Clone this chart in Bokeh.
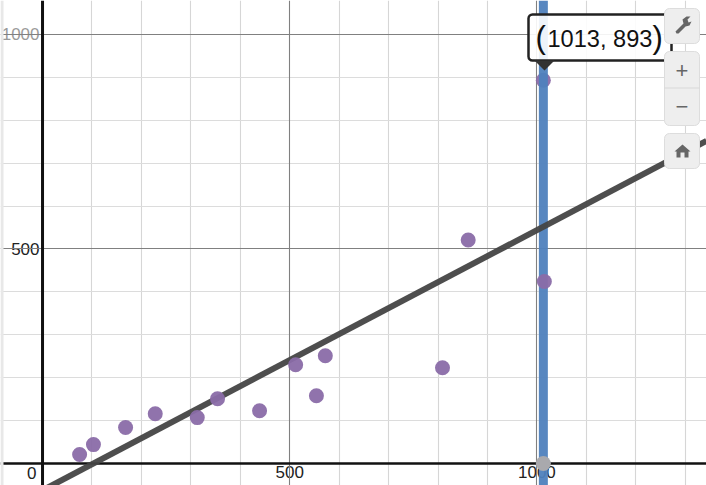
from bokeh.plotting import figure
from bokeh.embed import file_html
from bokeh.resources import INLINE
from bokeh.models import (BoxAnnotation, PolyAnnotation, Label, LinearAxis, Grid,
                          FixedTicker, Span)

W, H = 706, 485
FONT = "Liberation Sans"

# chart data
point_x = [75, 103, 168, 228, 313, 354, 439, 512, 554, 572, 809, 861, 1015]
point_y = [21, 44, 84, 116, 107, 151, 123, 230, 158, 251, 223, 521, 424]
fit_x = [-85, 1343]
fit_y = [-114, 752]
selected_x = 1013
selected_y = 893
selected_line_y = [-51.3, 1079]
minor_ticks = [100, 200, 300, 400, 600, 700, 800, 900, 1100, 1200, 1300]
major_ticks = [500, 1000]
y_minor_ticks = [100, 200, 300, 400, 600, 700, 800, 900]
tooltip_text = "1013, 893"

p = figure(width=W, height=H, x_range=(-85, 1343), y_range=(-51.3, 1079),
           output_backend="svg", toolbar_location=None, x_axis_type=None,
           y_axis_type=None, min_border=0, outline_line_color=None,
           background_fill_color="white",
           styles={"position": "absolute", "left": "0px", "top": "0px"})
p.grid.visible = False


def add_grid(dim, ticks, color, width):
    p.add_layout(Grid(dimension=dim, ticker=FixedTicker(ticks=ticks), grid_line_color=color,
                      grid_line_width=width, axis=None, level="underlay"))


add_grid(0, minor_ticks, "#d6d6d6", 1.1)
add_grid(1, y_minor_ticks, "#dcdcdc", 1.1)
add_grid(0, major_ticks, "#808080", 1.1)
add_grid(1, major_ticks, "#808080", 1.1)


def add_axis(side, ticks, color, standoff):
    ax = LinearAxis(fixed_location=0, ticker=FixedTicker(ticks=ticks), major_tick_line_color=None,
                    minor_tick_line_color=None, axis_line_color=None,
                    major_label_text_font=FONT, major_label_text_font_size="17px",
                    major_label_text_color=color, major_label_standoff=standoff, level="underlay")
    p.add_layout(ax, side)


add_axis("below", major_ticks, "#222222", -3)
add_axis("left", [500], "#222222", -3)
add_axis("left", [1000], "#9a9a9a", -3)
p.add_layout(Span(location=0, dimension="height", line_color="#111111", line_width=3, level="underlay"))
p.add_layout(Span(location=0, dimension="width", line_color="#111111", line_width=2.4, level="underlay"))
p.text([0], [0], text=["0"], x_offset=-6, y_offset=10, text_align="right", text_baseline="middle",
       text_font_size="17px", text_color="#222222", text_font={"value": FONT}, level="underlay")

p.add_layout(BoxAnnotation(left=0, right=3, top=H, bottom=0, left_units="screen", right_units="screen",
                           top_units="screen", bottom_units="screen", fill_color="#e8e8e8",
                           fill_alpha=1, line_color=None, level="underlay"))

p.scatter([selected_x], [selected_y], size=15, color="#8a6ca8", line_color=None, alpha=0.95)
p.line([selected_x, selected_x], selected_line_y, line_color="#4f81bd", line_width=9, line_alpha=0.95)
p.line(fit_x, fit_y, line_color="#444444", line_width=6, line_alpha=0.95)
p.scatter(point_x, point_y, size=15, color="#8a6ca8", line_color=None, alpha=0.95)
p.scatter([selected_x], [0], size=15, color="#a9a9ad", line_color=None)


def box(l, t, r, b, fill, line, alpha=1.0, radius=5, lw=1):
    p.add_layout(BoxAnnotation(left=l, right=r, top=H - t, bottom=H - b, left_units="screen",
                               right_units="screen", top_units="screen", bottom_units="screen",
                               fill_color=fill, fill_alpha=alpha, line_color=line, line_alpha=1,
                               line_width=lw, border_radius=radius))


def poly(pts, fill):
    p.add_layout(PolyAnnotation(xs=[a for a, _ in pts], ys=[H - b for _, b in pts], xs_units="screen",
                                ys_units="screen", fill_color=fill, fill_alpha=1, line_color=None))


def label(x, y, text, size, color="#111111", anchor="left"):
    p.add_layout(Label(x=x, y=H - y, x_units="screen", y_units="screen", text=text,
                       text_font=FONT, text_font_size=f"{size}px", text_color=color,
                       text_align=anchor, text_baseline="middle"))


# tooltip
box(528, 14, 671, 60, "white", "#222222", alpha=0.9, radius=4, lw=2.5)
poly([(534, 60), (554, 60), (544, 70)], "#333333")
label(535, 37, "(", 31)
label(547, 38, tooltip_text, 23.6)
label(652, 37, ")", 31)

# graph-paper controls
BTN = "#eeeeee"
EDGE = "#dddddd"
box(664, 8, 699, 43, BTN, EDGE)
box(664, 51, 699, 125, BTN, EDGE)
box(664, 87, 699, 88, "#d8d8d8", None, radius=0)
box(664, 133, 699, 168, BTN, EDGE)
label(681.5, 70, "+", 22, "#666666", "center")
label(681.5, 106, "\u2212", 22, "#666666", "center")
poly([(675, 31), (683, 23), (682, 19), (686, 16), (690, 16), (687, 19), (688, 22), (691, 21), (689, 25),
      (685, 26), (678, 33), (676, 33)], "#666666")
poly([(682, 144), (690, 151), (688, 151), (688, 157), (684, 157), (684, 152), (680, 152), (680, 157),
      (676, 157), (676, 151), (674, 151)], "#666666")

open("out.html", "w").write(file_html(p, INLINE))
